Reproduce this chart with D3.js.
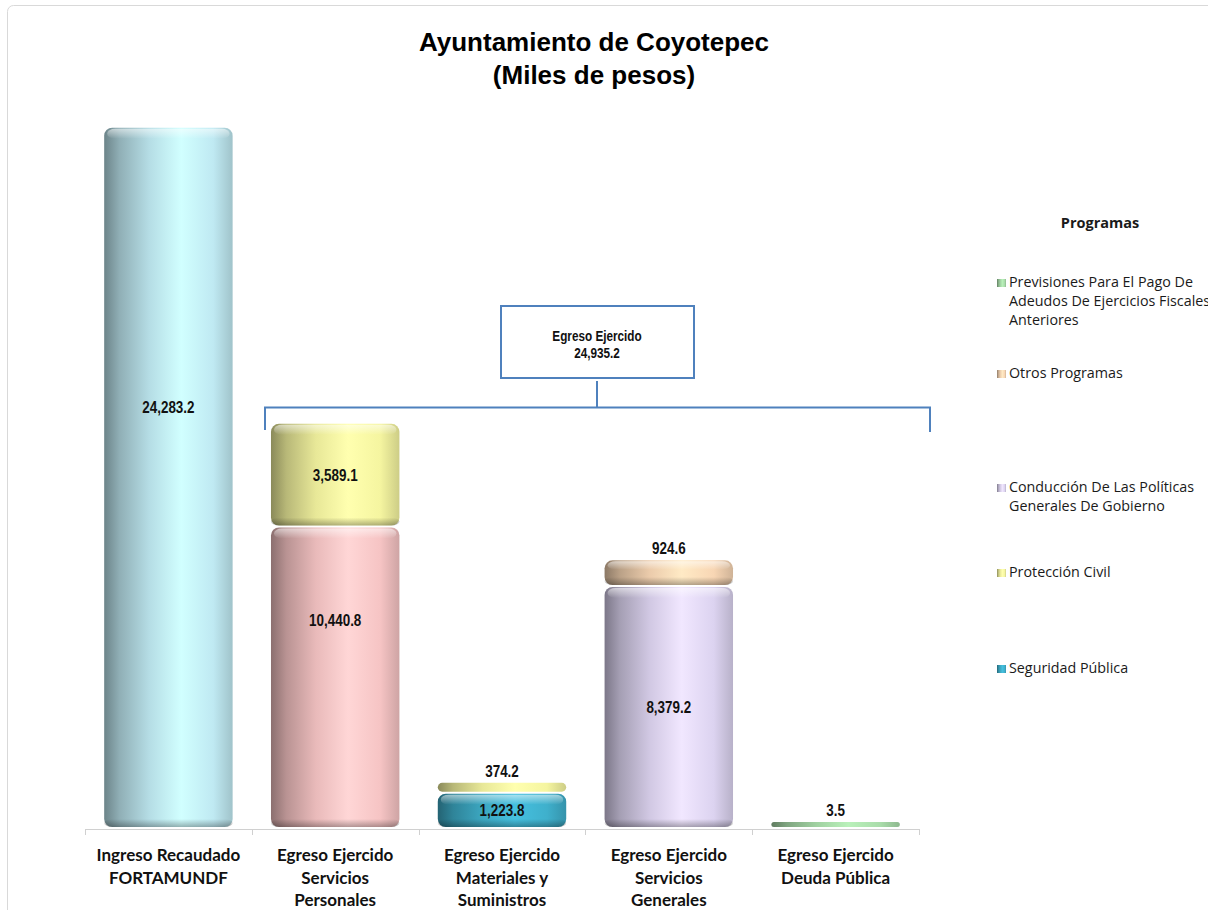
<!DOCTYPE html>
<html>
<head>
<meta charset="utf-8">
<script src="https://cdn.jsdelivr.net/npm/d3@7"></script>
<style>
  body { margin: 0; background: #fff; }
  svg { display: block; }
</style>
</head>
<body>
<svg id="chart" width="1208" height="910"></svg>
<script>
// categories (x axis, one line per entry)
var categories = [
	["Ingreso Recaudado", "FORTAMUNDF"],
	["Egreso Ejercido", "Servicios", "Personales"],
	["Egreso Ejercido", "Materiales y", "Suministros"],
	["Egreso Ejercido", "Servicios", "Generales"],
	["Egreso Ejercido", "Deuda Pública"]
];

// series values, one per category
var ingreso      = [24283.2, 0, 0, 0, 0];
var personales   = [0, 10440.8, 0, 0, 0];
var seguridad    = [0, 0, 1223.8, 0, 0];
var conduccion   = [0, 0, 0, 8379.2, 0];
var proteccion   = [0, 3589.1, 374.2, 0, 0];
var otros        = [0, 0, 0, 924.6, 0];
var previsiones  = [0, 0, 0, 0, 3.5];

var seriesKeys  = ["ingreso", "personales", "seguridad", "conduccion", "proteccion", "otros", "previsiones"];
var seriesData  = [ingreso, personales, seguridad, conduccion, proteccion, otros, previsiones];

var legendLabels = [
	["Previsiones Para El Pago De", "Adeudos De Ejercicios Fiscales", "Anteriores"],
	["Otros Programas"],
	["Conducción De Las Políticas", "Generales De Gobierno"],
	["Protección Civil"],
	["Seguridad Pública"]
];
var legendKeys = ["previsiones", "otros", "conduccion", "proteccion", "seguridad"];

var colors = {
	ingreso:     "#bfe9f2",
	personales:  "#f6c4c4",
	seguridad:   "#3fb0cc",
	conduccion:  "#dcd3f0",
	proteccion:  "#f5f5a0",
	otros:       "#f8d6b4",
	previsiones: "#a9dcaa"
};

// where the inside label sits, as fraction of the segment from its top (default: middle)
var labelPos = { ingreso: 0.4, personales: 0.31 };

var svg = d3.select("#chart");
var W = 1208, H = 910;

// frame
svg.append("rect")
	.attr("x", 7.5).attr("y", 5.5)
	.attr("width", W + 10).attr("height", H + 10)
	.attr("rx", 6)
	.attr("fill", "#fff")
	.attr("stroke", "#d9d9d9");

// title
var title = svg.append("text")
	.attr("text-anchor", "middle")
	.attr("font-family", "Liberation Sans, Arial, sans-serif")
	.attr("font-weight", "bold")
	.attr("font-size", 26)
	.attr("fill", "#000");
title.append("tspan").attr("x", 594).attr("y", 51).text("Ayuntamiento de Coyotepec");
title.append("tspan").attr("x", 594).attr("y", 84).text("(Miles de pesos)");

// scales
var x = d3.scaleBand()
	.domain(d3.range(categories.length))
	.range([85, 919])
	.paddingInner(0.23)
	.paddingOuter(0.115);

var y = d3.scaleLinear()
	.domain([0, 25000])
	.range([829, 107]);

// gradients
var defs = svg.append("defs");

function makeGrad(key) {
	var c = d3.color(colors[key]);
	var g = defs.append("linearGradient")
		.attr("id", "g-" + key)
		.attr("x1", 0).attr("x2", 1).attr("y1", 0).attr("y2", 0);
	var stops = [
		[0,    c.darker(1.6)],
		[0.12, c.darker(0.8)],
		[0.35, c.darker(0.15)],
		[0.6,  c.brighter(0.25)],
		[0.85, c.copy()],
		[1,    c.darker(0.5)]
	];
	stops.forEach(function(s) {
		g.append("stop").attr("offset", s[0]).attr("stop-color", s[1].formatHex());
	});
}
seriesKeys.forEach(makeGrad);

// top highlight / bottom shade
var hl = defs.append("linearGradient")
	.attr("id", "hl").attr("x1", 0).attr("x2", 0).attr("y1", 0).attr("y2", 1);
hl.append("stop").attr("offset", 0).attr("stop-color", "#fff").attr("stop-opacity", 0.55);
hl.append("stop").attr("offset", 1).attr("stop-color", "#fff").attr("stop-opacity", 0);

var sh = defs.append("linearGradient")
	.attr("id", "sh").attr("x1", 0).attr("x2", 0).attr("y1", 0).attr("y2", 1);
sh.append("stop").attr("offset", 0).attr("stop-color", "#000").attr("stop-opacity", 0);
sh.append("stop").attr("offset", 1).attr("stop-color", "#000").attr("stop-opacity", 0.3);

// axis line + ticks
var axisG = svg.append("g").attr("stroke", "#d0d0d0").attr("stroke-width", 1);
axisG.append("line")
	.attr("x1", 85).attr("x2", 919)
	.attr("y1", 829.5).attr("y2", 829.5);
var tickXs = d3.range(categories.length + 1).map(function(i) {
	return i < categories.length ? x(i) - x.step() * x.paddingInner() / 2 : 919;
});
tickXs[0] = 85;
axisG.selectAll(".tk").data(tickXs).enter().append("line")
	.attr("x1", function(d) { return Math.round(d) + 0.5; })
	.attr("x2", function(d) { return Math.round(d) + 0.5; })
	.attr("y1", 829).attr("y2", 835);

// stack
var table = categories.map(function(c, i) {
	var row = { i: i };
	seriesKeys.forEach(function(k, j) { row[k] = seriesData[j][i]; });
	return row;
});
var stacked = d3.stack().keys(seriesKeys)(table);

var bars = svg.append("g");
var labels = [];
var gap = 2, minH = 5, rr = 8;

stacked.forEach(function(layer) {
	layer.forEach(function(d, i) {
		var v = d[1] - d[0];
		if (!v) return;
		var y0 = y(d[0]), y1 = y(d[1]);
		var top = y1, bot = y0 - gap;
		if (bot - top < minH) top = bot - minH;
		var h = bot - top;
		var r = Math.min(rr, h / 2);
		var bx = x(i), bw = x.bandwidth();
		var g = bars.append("g");
		g.append("rect")
			.attr("x", bx).attr("y", top)
			.attr("width", bw).attr("height", h)
			.attr("rx", r).attr("ry", r)
			.attr("fill", "url(#g-" + layer.key + ")");
		if (h > 10) {
			g.append("rect")
				.attr("x", bx + 3).attr("y", top + 1)
				.attr("width", bw - 6).attr("height", Math.min(10, h / 3))
				.attr("rx", r).attr("ry", r)
				.attr("fill", "url(#hl)");
			g.append("rect")
				.attr("x", bx).attr("y", bot - Math.min(8, h / 3))
				.attr("width", bw).attr("height", Math.min(8, h / 3))
				.attr("rx", r).attr("ry", r)
				.attr("fill", "url(#sh)");
		}
		var inside = h > 30;
		var f = labelPos[layer.key] || 0.5;
		labels.push({
			x: bx + bw / 2,
			y: inside ? top + h * f + 6 : top - 6,
			t: d3.format(",.1f")(v)
		});
	});
});

// narrow bold labels (Arial Narrow look: Arial squeezed horizontally)
function narrow(sel) {
	sel.attr("font-family", "Liberation Sans, Arial, sans-serif")
		.attr("font-weight", "bold")
		.attr("text-anchor", "middle")
		.attr("fill", "#111");
}

svg.append("g").selectAll("text").data(labels).enter().append("text")
	.call(narrow)
	.attr("font-size", 16)
	.attr("transform", function(d) { return "translate(" + d.x + "," + d.y + ") scale(0.84,1)"; })
	.text(function(d) { return d.t; });

// category labels
var catG = svg.append("g")
	.attr("font-family", "Lato, Carlito, sans-serif")
	.attr("font-weight", "bold")
	.attr("font-size", 17)
	.attr("fill", "#111")
	.attr("text-anchor", "middle");
categories.forEach(function(lines, i) {
	var t = catG.append("text");
	lines.forEach(function(l, j) {
		t.append("tspan")
			.attr("x", x(i) + x.bandwidth() / 2)
			.attr("y", 861 + j * 22.5)
			.text(l);
	});
});

// bracket for total egreso
var egreso = d3.sum(seriesData.slice(1), function(s) { return d3.sum(s); });
var blue = "#4f81bd";
var br = svg.append("g").attr("stroke", blue).attr("stroke-width", 2).attr("fill", "none");
br.append("path")
	.attr("d", "M265,430V407.5H930V432");
br.append("line").attr("x1", 597).attr("x2", 597).attr("y1", 381).attr("y2", 407);
br.append("rect")
	.attr("x", 501).attr("y", 306).attr("width", 193).attr("height", 72)
	.attr("fill", "#fff");
var boxLines = ["Egreso Ejercido", d3.format(",.1f")(egreso)];
svg.append("g").selectAll("text").data(boxLines).enter().append("text")
	.call(narrow)
	.attr("font-size", 14)
	.attr("transform", function(d, i) { return "translate(597," + (341 + i * 17) + ") scale(0.84,1)"; })
	.text(function(d) { return d; });

// legend
var lg = svg.append("g").attr("font-family", "Open Sans, Carlito, sans-serif").attr("fill", "#1a1a1a");
lg.append("text")
	.attr("x", 1100).attr("y", 228)
	.attr("text-anchor", "middle")
	.attr("font-weight", "bold")
	.attr("font-size", 14.5)
	.text("Programas");
var legendY = [287, 378, 492, 577, 673];
legendKeys.forEach(function(k, i) {
	var yy = legendY[i];
	lg.append("rect")
		.attr("x", 997).attr("y", yy - 8)
		.attr("width", 9).attr("height", 8)
		.attr("fill", "url(#g-" + k + ")");
	var t = lg.append("text").attr("font-size", 14.3);
	legendLabels[i].forEach(function(l, j) {
		t.append("tspan")
			.attr("x", 1009)
			.attr("y", yy + j * 19)
			.text(l);
	});
});
</script>
</body>
</html>
